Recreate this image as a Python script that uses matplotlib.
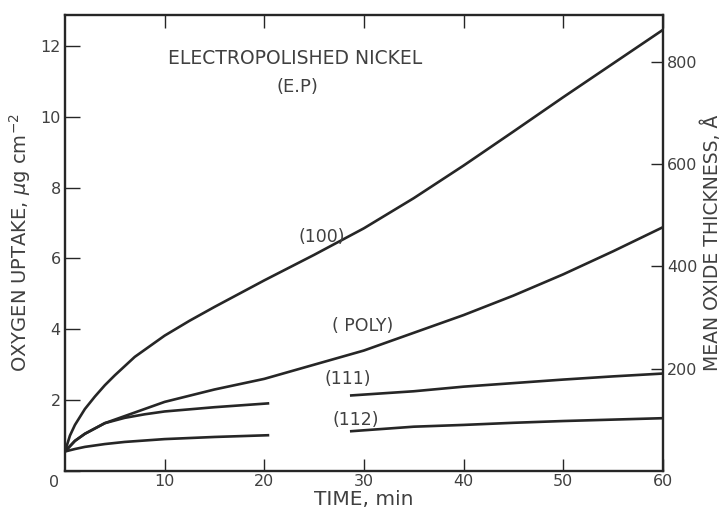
import numpy as np
import matplotlib
matplotlib.use("Agg")
import matplotlib.pyplot as plt

# oxygen uptake (ug cm^-2) vs time (min), read per orientation
t_100 = [0, 0.5, 1, 2, 3, 4, 5, 7, 10, 12.5, 15, 20, 25, 30, 35, 40, 45, 50, 55, 60]
y_100 = [0.55, 1.0, 1.3, 1.75, 2.1, 2.42, 2.7, 3.22, 3.82, 4.24, 4.63, 5.38, 6.1, 6.85, 7.7, 8.62, 9.58, 10.55, 11.5, 12.45]

t_poly = [0, 1, 2, 4, 6, 8, 10, 15, 20, 25, 30, 35, 40, 45, 50, 55, 60]
y_poly = [0.55, 0.85, 1.05, 1.35, 1.55, 1.75, 1.95, 2.3, 2.6, 3.0, 3.4, 3.9, 4.4, 4.95, 5.55, 6.2, 6.88]

# the (111) and (112) traces are broken around 21-28 min
t_111 = [0, 1, 2, 4, 6, 8, 10, 15, 20.5, np.nan, 28.6, 35, 40, 45, 50, 55, 60]
y_111 = [0.55, 0.85, 1.05, 1.35, 1.5, 1.6, 1.68, 1.8, 1.91, np.nan, 2.13, 2.25, 2.38, 2.48, 2.58, 2.67, 2.75]

t_112 = [0, 1, 2, 4, 6, 10, 15, 20.5, np.nan, 28.6, 35, 40, 45, 50, 55, 60]
y_112 = [0.55, 0.62, 0.68, 0.76, 0.82, 0.9, 0.96, 1.01, np.nan, 1.12, 1.25, 1.3, 1.36, 1.41, 1.45, 1.49]

x_ticks = [10, 20, 30, 40, 50, 60]
y_ticks = [0, 2, 4, 6, 8, 10, 12]
thick_ticks = [200, 400, 600, 800]
ANG_PER_UG = 69.3  # mean oxide thickness (A) per ug cm^-2

INK = "#262626"
TXT = "#404040"
plt.rcParams["font.family"] = ["DejaVu Sans"]

fig = plt.figure(figsize=(7.26, 5.27), dpi=100)
ax = fig.add_axes([0.0895, 0.1063, 0.8235, 0.8652])

for t, y in [(t_100, y_100), (t_poly, y_poly), (t_111, y_111), (t_112, y_112)]:
    ax.plot(t, y, color=INK, lw=1.9, solid_capstyle="butt", solid_joinstyle="round")

ax.set_xlim(0, 60)
ax.set_ylim(0, 12.87)
for s in ax.spines.values():
    s.set_color(INK)
    s.set_linewidth(1.7)

ax.set_xticks(x_ticks)
ax.set_yticks(y_ticks)
ax.set_yticklabels([""] + [str(v) for v in y_ticks[1:]])
ax.tick_params(axis="x", direction="in", length=9, width=1.0, color=INK,
               labelsize=11.5, labelcolor=TXT, pad=2, top=True)
ax.tick_params(axis="y", direction="in", length=11, width=1.0, color=INK,
               labelsize=11.5, labelcolor=TXT, pad=3)
ax.text(-0.6, -0.1, "0", transform=ax.transData, ha="right", va="top",
        fontsize=11.5, color=TXT)

ax2 = ax.twinx()
ax2.set_ylim(0, 12.87 * ANG_PER_UG)
ax2.set_yticks(thick_ticks)
ax2.tick_params(axis="y", direction="in", length=9, width=1.0, color=INK,
                labelsize=11.5, labelcolor=TXT, pad=3)
for s in ax2.spines.values():
    s.set_visible(False)

ax.set_xlabel("TIME, min", fontsize=14.5, color=TXT, labelpad=1)
ax.set_ylabel("OXYGEN UPTAKE, $\\mu$g cm$^{-2}$", fontsize=14, color=TXT, labelpad=5)
ax2.set_ylabel("MEAN OXIDE THICKNESS, Å", fontsize=13.5, color=TXT, labelpad=3)

ax.text(0.385, 0.905, "ELECTROPOLISHED NICKEL", transform=ax.transAxes,
        ha="center", va="center", fontsize=13.5, color=TXT)
ax.text(0.389, 0.843, "(E.P)", transform=ax.transAxes,
        ha="center", va="center", fontsize=13, color=TXT)

ax.text(25.8, 6.6, "(100)", ha="center", va="center", fontsize=12.5, color=TXT)
ax.text(29.9, 4.1, "( POLY)", ha="center", va="center", fontsize=12.5, color=TXT)
ax.text(28.4, 2.6, "(111)", ha="center", va="center", fontsize=12.5, color=TXT)
ax.text(29.2, 1.45, "(112)", ha="center", va="center", fontsize=12.5, color=TXT)

fig.savefig("out.png", dpi=100)
